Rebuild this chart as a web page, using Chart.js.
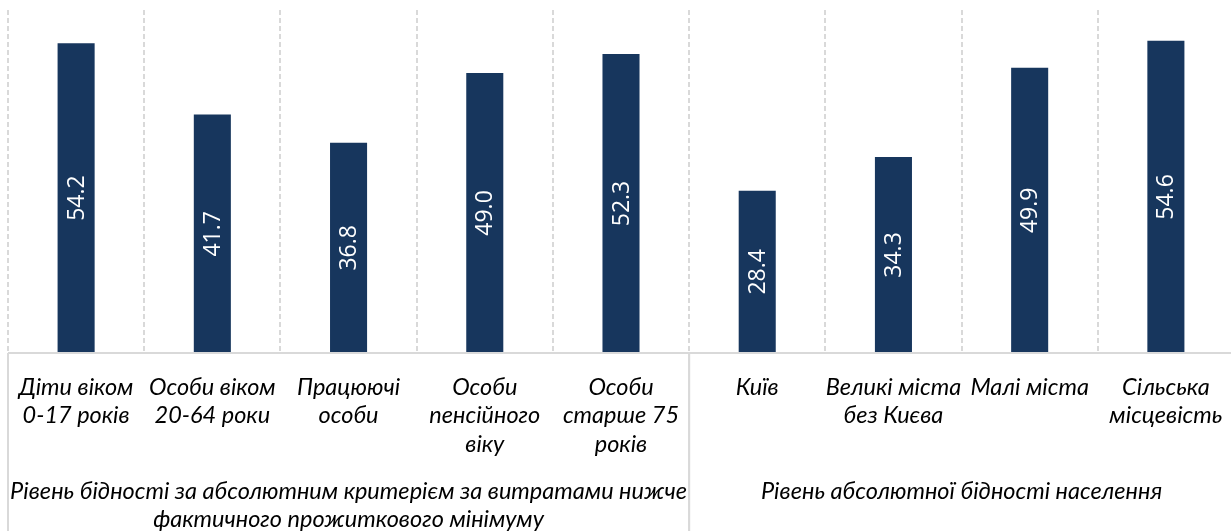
<!DOCTYPE html>
<html>
<head>
<meta charset="utf-8">
<script src="https://cdn.jsdelivr.net/npm/chart.js@4.4.0/dist/chart.umd.min.js"></script>
<style>
html, body { margin: 0; padding: 0; background: #fff; overflow: hidden; }
#clip { width: 1231px; height: 531px; overflow: hidden; position: relative; }
#povertyChart { display: block; position: absolute; left: 0; top: 0; }
</style>
</head>
<body>
<div id="clip"><canvas id="povertyChart" width="1236" height="531"></canvas></div>
<script>
// ----- data -----
const categories = [
    ['Діти віком', '0-17 років'],
    ['Особи віком', '20-64 роки'],
    ['Працюючі', 'особи'],
    ['Особи', 'пенсійного', 'віку'],
    ['Особи', 'старше 75', 'років'],
    ['Київ'],
    ['Великі міста', 'без Києва'],
    ['Малі міста'],
    ['Сільська', 'місцевість']
];
const povertyRates = [54.2, 41.7, 36.8, 49.0, 52.3, 28.4, 34.3, 49.9, 54.6];
const groupLabels = [
    ['Рівень бідності за абсолютним критерієм за витратами нижче', 'фактичного прожиткового мінімуму'],
    ['Рівень абсолютної бідності населення']
];
const groupSizes = [5, 4];

const barColor = '#17365d';
const lineColor = '#d9d9d9';
const labelFont = 'italic 23.5px Lato';

// value labels inside bars, rotated
const barValuePlugin = {
    id: 'barValues',
    afterDatasetsDraw(chart) {
        const ctx = chart.ctx;
        const meta = chart.getDatasetMeta(0);
        ctx.save();
        ctx.fillStyle = '#fff';
        ctx.font = '23px "Open Sans"';
        ctx.textAlign = 'center';
        ctx.textBaseline = 'middle';
        meta.data.forEach((bar, i) => {
            ctx.save();
            ctx.translate(bar.x, (bar.y + bar.base) / 2);
            ctx.rotate(-Math.PI / 2);
            ctx.fillText(povertyRates[i].toFixed(1), 0, 1);
            ctx.restore();
        });
        ctx.restore();
    }
};

// axis line, group separators and group titles
const groupAxisPlugin = {
    id: 'groupAxis',
    afterDraw(chart) {
        const {ctx, chartArea, scales: {x}} = chart;
        const half = (x.getPixelForValue(1) - x.getPixelForValue(0)) / 2;
        const bottom = chart.height;
        ctx.save();
        ctx.strokeStyle = lineColor;
        ctx.lineWidth = 2;
        ctx.beginPath();
        ctx.moveTo(chartArea.left, chartArea.bottom);
        ctx.lineTo(chartArea.right, chartArea.bottom);
        ctx.stroke();

        ctx.fillStyle = '#000';
        ctx.font = labelFont;
        ctx.textAlign = 'center';
        ctx.textBaseline = 'middle';
        let start = 0;
        groupSizes.forEach((n, g) => {
            const left = x.getPixelForValue(start) - half;
            const right = x.getPixelForValue(start + n - 1) + half;
            ctx.beginPath();
            ctx.moveTo(left, chartArea.bottom);
            ctx.lineTo(left, bottom);
            ctx.moveTo(right, chartArea.bottom);
            ctx.lineTo(right, bottom);
            ctx.stroke();
            groupLabels[g].forEach((line, k) => {
                ctx.fillText(line, (left + right) / 2, chartArea.bottom + 138 + k * 28);
            });
            start += n;
        });
        ctx.restore();
    }
};

const ctx = document.getElementById('povertyChart').getContext('2d');

const chartData = {
    type: 'bar',
    data: {
        labels: categories,
        datasets: [
            {
                data: povertyRates,
                backgroundColor: barColor,
                barPercentage: 0.272,
                categoryPercentage: 1,
            },
        ],
    },
    options: {
        responsive: false,
        animation: false,
        layout: {
            padding: {top: 10, left: 8, right: 2, bottom: 0}
        },
        plugins: {
            legend: {display: false},
            tooltip: {enabled: false},
        },
        scales: {
            x: {
                grid: {
                    color: lineColor,
                    lineWidth: 2,
                    drawTicks: false,
                    offset: true,
                },
                border: {display: false, dash: [5, 3]},
                ticks: {
                    color: '#000',
                    font: {family: 'Lato', style: 'italic', size: 23.5, lineHeight: '28.5px'},
                    padding: 20,
                    maxRotation: 0,
                    autoSkip: false,
                },
                afterFit(scale) {
                    scale.height = 178;
                    scale.paddingLeft = 0;
                    scale.paddingRight = 0;
                },
            },
            y: {
                display: false,
                min: 0,
                max: 60,
            },
        },
    },
    plugins: [barValuePlugin, groupAxisPlugin],
};

const PovertyChart = new Chart(ctx, chartData);
</script>
</body>
</html>
